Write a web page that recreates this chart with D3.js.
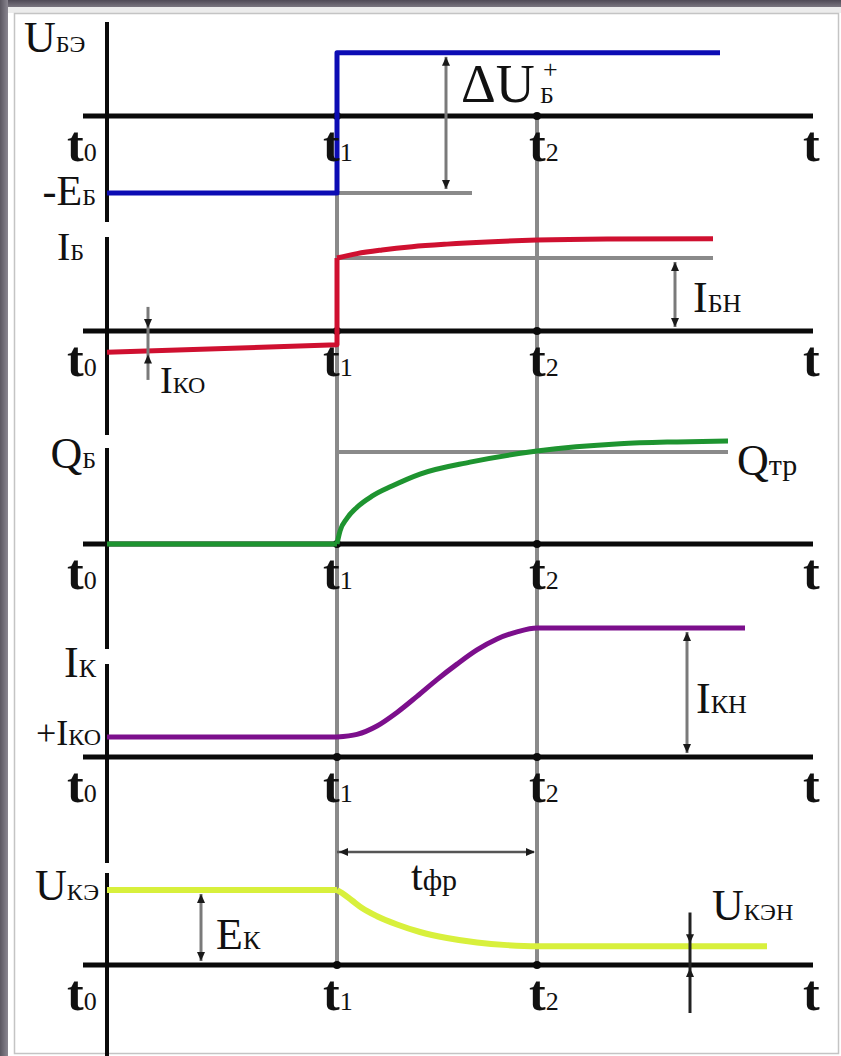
<!DOCTYPE html>
<html>
<head>
<meta charset="utf-8">
<script src="https://cdn.jsdelivr.net/npm/d3@7"></script>
<style>
  html, body { margin: 0; padding: 0; background: #fff; }
  svg { display: block; }
  text { font-family: "Liberation Serif", "Times New Roman", serif; fill: #111; }
</style>
</head>
<body>
<svg id="chart" width="841" height="1056"></svg>
<script>
// ---- time marks (arbitrary time units) ----
const markNames = ["0", "1", "2"];
const markTimes = [0, 23, 43];
const timeEnd = 70.6;

// ---- U_БЭ, in units of E_Б ----
const ubeT = [0, 23, 23, 61.3];
const ubeV = [-1, -1, 0.82, 0.82];

// ---- I_Б, in units of I_БН ----
const ibFlatT = [0, 23, 23];
const ibFlatV = [-0.29, -0.19, 1.0];
const ibRiseT = [23, 25, 27.5, 30.5, 34, 38, 43, 50, 60.6];
const ibRiseV = [1.0, 1.06, 1.11, 1.155, 1.19, 1.22, 1.245, 1.26, 1.265];

// ---- Q_Б, in units of Q_ГР ----
const qFlatT = [0, 23];
const qFlatV = [0, 0];
const qRiseT = [23, 23.3, 24, 25, 26.5, 28.5, 31.3, 36.3, 43, 51.3, 57, 62.1];
const qRiseV = [0, 0.14, 0.28, 0.4, 0.52, 0.63, 0.76, 0.89, 1.01, 1.09, 1.11, 1.12];

// ---- I_К, in units of I_КН ----
const ikFlatT = [0, 23];
const ikFlatV = [0.155, 0.155];
const ikRiseT = [23, 25, 27, 29, 31, 33, 35, 37, 39, 41, 43, 63.8];
const ikRiseV = [0.155, 0.175, 0.24, 0.345, 0.47, 0.6, 0.72, 0.83, 0.915, 0.97, 1.0, 1.0];

// ---- U_КЭ, in units of E_К ----
const uceFlatT = [0, 23];
const uceFlatV = [1, 1];
const uceFallT = [23, 23.5, 24.5, 25.5, 27, 29, 31.3, 34, 37, 40, 43, 66];
const uceFallV = [1.0, 0.96, 0.86, 0.76, 0.65, 0.54, 0.44, 0.36, 0.3, 0.265, 0.25, 0.25];

const colors = {
  ube: "#0c0cb4",
  ib: "#cf1030",
  q: "#1e9430",
  ik: "#7c0f8c",
  uce: "#d8f03c",
  guide: "#8a8a8a",
  axis: "#0a0a0a"
};

const svg = d3.select("#chart");
const W = 841, H = 1056;

// ---- frame ----
const defs = svg.append("defs");
const gTop = defs.append("linearGradient").attr("id", "gTop").attr("x1", 0).attr("x2", 0).attr("y1", 0).attr("y2", 1);
gTop.append("stop").attr("offset", "0%").attr("stop-color", "#4f4a56");
gTop.append("stop").attr("offset", "100%").attr("stop-color", "#7a7680");
const gLeft = defs.append("linearGradient").attr("id", "gLeft").attr("x1", 0).attr("x2", 1).attr("y1", 0).attr("y2", 0);
gLeft.append("stop").attr("offset", "0%").attr("stop-color", "#5a5660");
gLeft.append("stop").attr("offset", "100%").attr("stop-color", "#8a8690");

svg.append("rect").attr("width", W).attr("height", H).attr("fill", "#fff");
svg.append("rect").attr("x", 0).attr("y", 0).attr("width", W).attr("height", 7).attr("fill", "url(#gTop)");
svg.append("rect").attr("x", 0).attr("y", 0).attr("width", 8).attr("height", H).attr("fill", "url(#gLeft)");
svg.append("rect").attr("x", 8).attr("y", 7).attr("width", W - 8).attr("height", 6).attr("fill", "#ececec");
svg.append("rect").attr("x", 14.5).attr("y", 13.5).attr("width", 824).attr("height", 1040)
  .attr("fill", "none").attr("stroke", "#c4c4c4").attr("stroke-width", 1.5);

// ---- scales ----
const x = d3.scaleLinear().domain([0, timeEnd]).range([107, 813]);

function panelScale(axisY, unitPx) {
  return d3.scaleLinear().domain([0, 1]).range([axisY, axisY - unitPx]);
}
const yUbe = panelScale(116, 77);
const yIb = panelScale(331, 73);
const yQ = panelScale(544, 92);
const yIk = panelScale(757, 129);
const yUce = panelScale(965, 75);
const panels = [yUbe, yIb, yQ, yIk, yUce];

const gGuides = svg.append("g");
const gAxes = svg.append("g");
const gCurves = svg.append("g");
const gArrows = svg.append("g");
const gText = svg.append("g");

// ---- guide lines (gray) ----
const t1 = markTimes[1], t2 = markTimes[2];
gGuides.append("line")
  .attr("x1", x(t1)).attr("x2", x(t1))
  .attr("y1", yUbe(-1)).attr("y2", yUce(0))
  .attr("stroke", colors.guide).attr("stroke-width", 4);
gGuides.append("line")
  .attr("x1", x(t2)).attr("x2", x(t2))
  .attr("y1", yUbe(0)).attr("y2", yUce(0))
  .attr("stroke", colors.guide).attr("stroke-width", 4);

const levelGuides = [
  { y: yUbe, v: -1, t0: t1, t1: 36.5 },
  { y: yIb, v: 1, t0: t1, t1: 60.6 },
  { y: yQ, v: 1, t0: t1, t1: 62.1 }
];
levelGuides.forEach(g => {
  gGuides.append("line")
    .attr("x1", x(g.t0)).attr("x2", x(g.t1))
    .attr("y1", g.y(g.v)).attr("y2", g.y(g.v))
    .attr("stroke", colors.guide).attr("stroke-width", 4);
});

// ---- axes ----
gAxes.append("line")
  .attr("x1", x(0)).attr("x2", x(0)).attr("y1", 22).attr("y2", H)
  .attr("stroke", colors.axis).attr("stroke-width", 4);
panels.forEach(y => {
  gAxes.append("line")
    .attr("x1", x(-2.4)).attr("x2", x(timeEnd))
    .attr("y1", y(0)).attr("y2", y(0))
    .attr("stroke", colors.axis).attr("stroke-width", 5);
  [t1, t2].forEach(t => {
    gAxes.append("circle").attr("cx", x(t)).attr("cy", y(0)).attr("r", 4).attr("fill", colors.axis);
  });
});
// breaks in the vertical axis beside the quantity names
[[222, 237], [435, 448], [649, 664], [863, 873]].forEach(([a, b]) => {
  gAxes.append("rect").attr("x", x(0) - 4).attr("y", a).attr("width", 8).attr("height", b - a).attr("fill", "#fff");
});

// ---- curves ----
function drawSeries(ts, vs, y, color, curve, width) {
  const pts = ts.map((t, i) => [t, vs[i]]);
  gCurves.append("path")
    .attr("d", d3.line().x(d => x(d[0])).y(d => y(d[1])).curve(curve)(pts))
    .attr("fill", "none").attr("stroke", color).attr("stroke-width", width)
    .attr("stroke-linejoin", "round");
}
drawSeries(ubeT, ubeV, yUbe, colors.ube, d3.curveLinear, 5);
drawSeries(ibFlatT, ibFlatV, yIb, colors.ib, d3.curveLinear, 5);
drawSeries(ibRiseT, ibRiseV, yIb, colors.ib, d3.curveMonotoneX, 5);
drawSeries(qFlatT, qFlatV, yQ, colors.q, d3.curveLinear, 5);
drawSeries(qRiseT, qRiseV, yQ, colors.q, d3.curveMonotoneX, 5);
drawSeries(ikFlatT, ikFlatV, yIk, colors.ik, d3.curveLinear, 5);
drawSeries(ikRiseT, ikRiseV, yIk, colors.ik, d3.curveMonotoneX, 5);
drawSeries(uceFlatT, uceFlatV, yUce, colors.uce, d3.curveLinear, 6);
drawSeries(uceFallT, uceFallV, yUce, colors.uce, d3.curveMonotoneX, 6);

// ---- dimension arrows ----
function head(px, py, dir) {
  const L = 9, w = 4;
  let p;
  if (dir === "up") p = [[px, py], [px - w, py + L], [px + w, py + L]];
  else if (dir === "down") p = [[px, py], [px - w, py - L], [px + w, py - L]];
  else if (dir === "left") p = [[px, py], [px + L, py - w], [px + L, py + w]];
  else p = [[px, py], [px - L, py - w], [px - L, py + w]];
  gArrows.append("path").attr("d", "M" + p.join("L") + "Z").attr("fill", "#1a1a1a");
}
function vArrow(t, y, vTop, vBot, color, inset) {
  const ax = x(t), ya = y(vTop) + inset, yb = y(vBot) - inset;
  gArrows.append("line").attr("x1", ax).attr("x2", ax).attr("y1", ya).attr("y2", yb)
    .attr("stroke", color).attr("stroke-width", 3);
  head(ax, ya, "up");
  head(ax, yb, "down");
}
vArrow(33.9, yUbe, 0.82, -1, "#7a7a7a", 4);
vArrow(56.8, yIb, 1, 0, "#7a7a7a", 4);
vArrow(58, yIk, 1, 0, "#7a7a7a", 4);
vArrow(9.4, yUce, 1, 0, "#7a7a7a", 4);

// inward arrows for the small quantities I_КО and U_КЭН
function inwardArrow(t, y, vTop, vBot, vUpper, vLower, color) {
  const ax = x(t);
  gArrows.append("line").attr("x1", ax).attr("x2", ax).attr("y1", y(vTop)).attr("y2", y(vBot))
    .attr("stroke", color).attr("stroke-width", 3);
  head(ax, y(vUpper) - 3, "down");
  head(ax, y(vLower) + 3, "up");
}
inwardArrow(4.1, yIb, 0.33, -0.67, 0, -0.28, "#7a7a7a");
inwardArrow(58.3, yUce, 0.7, -0.64, 0.25, 0, "#222");

// t_фр span
const yF = yUce(1.507);
gArrows.append("line").attr("x1", x(t1)).attr("x2", x(t2) - 3).attr("y1", yF).attr("y2", yF)
  .attr("stroke", "#555").attr("stroke-width", 2.5);
head(x(t1) + 2, yF, "left");
head(x(t2) - 2, yF, "right");

// ---- labels ----
function label(px, py, anchor, parts) {
  const t = gText.append("text").attr("x", px).attr("y", py).attr("text-anchor", anchor);
  parts.forEach(([s, size, weight]) => {
    t.append("tspan").attr("font-size", size).attr("font-weight", weight || "normal").text(s);
  });
}
// time labels
panels.forEach(y => {
  const base = y(0) + 45;
  const offs = [-40, -14, -8];
  markTimes.forEach((t, i) => {
    label(x(t) + offs[i], base, "start", [["t", 50, "bold"], [markNames[i], 26]]);
  });
  label(x(timeEnd) - 10, base, "start", [["t", 50, "bold"]]);
});

label(24, 52, "start", [["U", 44], ["БЭ", 24]]);
label(96, 205, "end", [["-E", 42], ["Б", 24]]);
label(84, 260, "end", [["I", 40], ["Б", 24]]);
label(160, 393, "start", [["I", 38], ["КО", 24]]);
label(693, 312, "start", [["I", 44], ["БН", 26]]);
label(96, 468, "end", [["Q", 44], ["Б", 24]]);
label(737, 475, "start", [["Q", 44], ["тр", 30]]);
label(96, 677, "end", [["I", 44], ["К", 26]]);
label(101, 745, "end", [["+I", 36], ["КО", 24]]);
label(696, 713, "start", [["I", 44], ["КН", 26]]);
label(99, 900, "end", [["U", 44], ["КЭ", 24]]);
label(216, 949, "start", [["E", 44], ["К", 26]]);
label(411, 890, "start", [["t", 42], ["фр", 30]]);
label(712, 920, "start", [["U", 44], ["КЭН", 24]]);

// ΔU_Б with superscript +
label(461, 102, "start", [["ΔU", 54]]);
label(540, 103, "start", [["Б", 24]]);
label(543, 78, "start", [["+", 26]]);
</script>
</body>
</html>
